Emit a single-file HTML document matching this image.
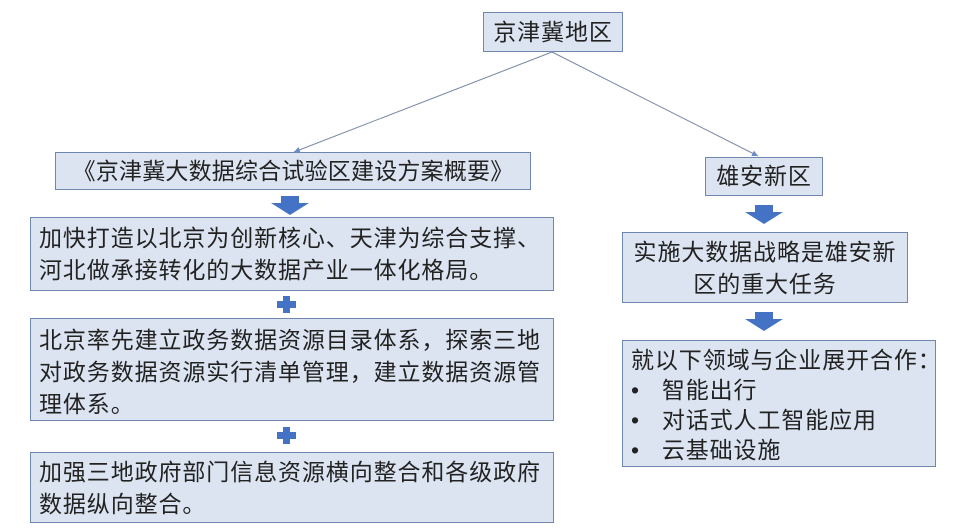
<!DOCTYPE html>
<html><head><meta charset="utf-8"><style>
body{margin:0;width:968px;height:529px;background:#fff;position:relative;overflow:hidden;font-family:"Liberation Sans","Noto Sans CJK SC",sans-serif;color:#222}
.b{position:absolute;background:#dce4f2;border:1.5px solid #6f86ad;box-sizing:border-box;font-size:23px;line-height:32px;padding:0 8px;white-space:nowrap;letter-spacing:0.9px}
.c{text-align:center}
</style></head><body>
<svg width="968" height="529" style="position:absolute;left:0;top:0">
<defs><marker id="m" markerWidth="8" markerHeight="8" refX="6" refY="3" orient="auto"><path d="M0,0 L6,3 L0,6 z" fill="#6a8cc7"/></marker></defs>
<line x1="552" y1="52" x2="294" y2="152" stroke="#7a8aa6" stroke-width="1" marker-end="url(#m)"/>
<line x1="552" y1="52" x2="758" y2="156" stroke="#7a8aa6" stroke-width="1" marker-end="url(#m)"/>
<g fill="#4472c4">
<path d="M281,196 h18 v7 h10 l-19,12 l-19,-12 h10z"/>
<path d="M755,205 h18 v7 h10 l-19,12 l-19,-12 h10z"/>
<path d="M755,312 h18 v7 h10 l-19,12 l-19,-12 h10z"/>
<path d="M283,296 h7 v5 h6 v7 h-6 v5 h-7 v-5 h-6 v-7 h6z"/>
<path d="M283,427 h7 v5 h6 v7 h-6 v5 h-7 v-5 h-6 v-7 h6z"/>
</g></svg>
<div class="b c" style="left:483px;top:12px;width:140px;height:40px;line-height:38px;padding:0">京津冀地区</div>
<div class="b c" style="left:55px;top:152px;width:476px;height:38px;line-height:36px;padding:0;letter-spacing:0.2px">《京津冀大数据综合试验区建设方案概要》</div>
<div class="b c" style="left:705px;top:157px;width:118px;height:39px;line-height:37px;padding:0">雄安新区</div>
<div class="b" style="left:30px;top:217px;width:524px;height:74px;padding-top:4px">加快打造以北京为创新核心、天津为综合支撑、<br>河北做承接转化的大数据产业一体化格局。</div>
<div class="b" style="left:30px;top:318px;width:524px;height:103px;padding-top:5px">北京率先建立政务数据资源目录体系，探索三地<br>对政务数据资源实行清单管理，建立数据资源管<br>理体系。</div>
<div class="b" style="left:30px;top:452px;width:524px;height:71px;padding-top:3px">加强三地政府部门信息资源横向整合和各级政府<br>数据纵向整合。</div>
<div class="b c" style="left:622px;top:232px;width:286px;height:71px;padding-top:3px;padding-left:0;padding-right:0">实施大数据战略是雄安新<br>区的重大任务</div>
<div class="b" style="left:622px;top:340px;width:314px;height:127px;padding-top:4px;line-height:30px">就以下领域与企业展开合作：<br>•&nbsp;&nbsp;&nbsp;智能出行<br>•&nbsp;&nbsp;&nbsp;对话式人工智能应用<br>•&nbsp;&nbsp;&nbsp;云基础设施</div>
</body></html>
